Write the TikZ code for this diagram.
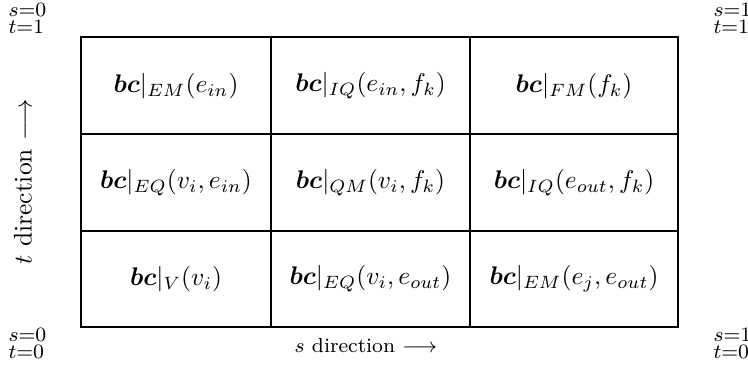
\documentclass[tikz,border=0pt]{standalone}
\usepackage{amsmath,amssymb}
\newcommand{\bcf}{\boldsymbol{bc}}
\begin{document}
\begin{tikzpicture}[x=0.392pt,y=-0.392pt,
  cell/.style={inner sep=0pt},
  corner/.style={font=\footnotesize,inner sep=0pt,anchor=north west,align=left},
  gridline/.style={line width=1pt}]
\useasboundingbox (0,0) rectangle (748,369);
% the table
\draw[gridline] (81,37) rectangle (678,327);
\foreach \x in {271,470}
   \draw[gridline] (\x,37) -- (\x,327);
\foreach \y in {134,231}
   \draw[gridline] (81,\y) -- (678,\y);
% top row
\node[cell] (em1) at (176,86) {$\bcf|_{EM}(e_{in})$};
\node[cell] (iq1) at (370.5,86) {$\bcf|_{IQ}(e_{in},f_k)$};
\node[cell] (fm)  at (574,86) {$\bcf|_{FM}(f_k)$};
% middle row
\node[cell] (eq1) at (176,183) {$\bcf|_{EQ}(v_i,e_{in})$};
\node[cell] (qm)  at (370.5,183) {$\bcf|_{QM}(v_i,f_k)$};
\node[cell] (iq2) at (574,183) {$\bcf|_{IQ}(e_{out},f_k)$};
% bottom row
\node[cell] (v)   at (176,279) {$\bcf|_{V}(v_i)$};
\node[cell] (eq2) at (370.5,279) {$\bcf|_{EQ}(v_i,e_{out})$};
\node[cell] (em2) at (574,279) {$\bcf|_{EM}(e_j,e_{out})$};
% directions
\node[font=\footnotesize] (sdir) at (366,346) {$s$ direction $\longrightarrow$};
\node[rotate=90] (tdir) at (23,182) {$t$ direction $\longrightarrow$};
% corners
\node[corner] (c01) at (8,3)   {$s{=}0$\\[-2.8pt]$t{=}1$};
\node[corner] (c11) at (713,3) {$s{=}1$\\[-2.8pt]$t{=}1$};
\node[corner] (c00) at (8,328)   {$s{=}0$\\[-2.8pt]$t{=}0$};
\node[corner] (c10) at (713,328) {$s{=}1$\\[-2.8pt]$t{=}0$};
\end{tikzpicture}
\end{document}
